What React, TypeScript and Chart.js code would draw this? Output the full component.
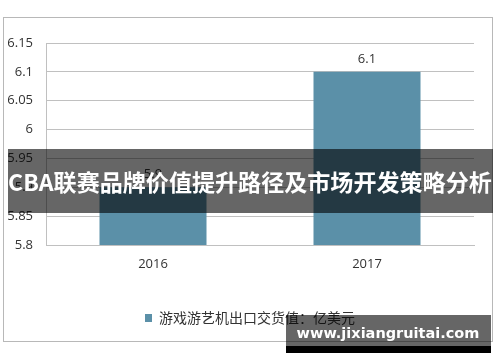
import React, { useEffect, useRef } from "react";
import { Chart, registerables } from "chart.js";

Chart.register(...registerables);

const categories = ["2016", "2017"];
const seriesLabel = "游戏游艺机出口交货值：亿美元";
const seriesValues = [5.9, 6.1];
const yTickValues = [5.8, 5.85, 5.9, 5.95, 6, 6.05, 6.1, 6.15];
const bannerText = "CBA联赛品牌价值提升路径及市场开发策略分析";
const watermarkText = "www.jixiangruitai.com";

const BAR_COLOR = "#5B90A8";
const TEXT_COLOR = "#333333";
const GRID_COLOR = "#c0c0c0";
const LATIN_FONT = "'Open Sans', 'Noto Sans', sans-serif";
const CJK_FONT = "'Noto Sans CJK SC', 'Noto Sans', sans-serif";

const fmt = (v: number) => String(+Number(v).toFixed(2));

const framePlugin = {
  id: "frame",
  afterLayout(chart: any) {
    // center the legend on the whole canvas
    if (chart.legend) {
      chart.legend.left = 0;
      chart.legend.right = chart.width;
      chart.legend.width = chart.width;
    }
  },
  beforeDraw(chart: any) {
    const ctx = chart.ctx;
    ctx.save();
    ctx.fillStyle = "#ffffff";
    ctx.fillRect(0, 0, chart.width, chart.height);
    ctx.strokeStyle = "#b8b8b8";
    ctx.lineWidth = 1;
    ctx.strokeRect(3.5, 17.5, 489, 324);
    ctx.restore();
  },
};

const dataLabelPlugin = {
  id: "dataLabels",
  afterDatasetsDraw(chart: any) {
    const ctx = chart.ctx;
    ctx.save();
    ctx.font = `13px ${LATIN_FONT}`;
    ctx.fillStyle = TEXT_COLOR;
    ctx.textAlign = "center";
    ctx.textBaseline = "bottom";
    chart.data.datasets.forEach((ds: any, di: number) => {
      const meta = chart.getDatasetMeta(di);
      meta.data.forEach((el: any, i: number) => {
        ctx.fillText(fmt(ds.data[i]), el.x, el.y - 6);
      });
    });
    ctx.restore();
  },
};

const overlayPlugin = {
  id: "overlay",
  afterDraw(chart: any) {
    const ctx = chart.ctx;
    ctx.save();
    // banner
    ctx.fillStyle = "rgba(0,0,0,0.6)";
    ctx.fillRect(8, 149, 485, 64);
    ctx.fillStyle = "#ffffff";
    ctx.textBaseline = "middle";
    ctx.textAlign = "left";
    ctx.font = `bold 23px ${CJK_FONT}`;
    const bw = ctx.measureText(bannerText).width;
    const bsize = (23 * 484) / bw;
    ctx.font = `bold ${bsize.toFixed(2)}px ${CJK_FONT}`;
    ctx.fillText(bannerText, 8, 182);
    // watermark
    ctx.fillStyle = "rgba(0,0,0,0.6)";
    ctx.fillRect(286, 315, 205, 31);
    ctx.fillStyle = "#000000";
    ctx.fillRect(286, 346, 205, 7);
    ctx.fillStyle = "#ffffff";
    ctx.textAlign = "center";
    ctx.font = `bold 16px 'DejaVu Sans', sans-serif`;
    const ww = ctx.measureText(watermarkText).width;
    const wsize = (16 * 183) / ww;
    ctx.font = `bold ${wsize.toFixed(2)}px 'DejaVu Sans', sans-serif`;
    ctx.fillText(watermarkText, 388, 334);
    ctx.restore();
  },
};

export default function App() {
  const canvasRef = useRef<HTMLCanvasElement | null>(null);

  useEffect(() => {
    if (!canvasRef.current) return;
    const chart = new Chart(canvasRef.current, {
      type: "bar",
      data: {
        labels: categories,
        datasets: [
          {
            label: seriesLabel,
            data: seriesValues,
            backgroundColor: BAR_COLOR,
            borderWidth: 0,
            barPercentage: 0.5,
            categoryPercentage: 1,
          },
        ],
      },
      options: {
        responsive: false,
        animation: false,
        devicePixelRatio: 1,
        layout: { padding: { left: 0, right: 26, top: 43, bottom: 27 } },
        plugins: {
          legend: {
            display: true,
            position: "bottom",
            labels: {
              boxWidth: 7,
              boxHeight: 8,
              padding: 10,
              color: TEXT_COLOR,
              font: { size: 14, family: CJK_FONT },
            },
          },
          tooltip: { enabled: false },
        },
        scales: {
          x: {
            grid: { display: false, drawTicks: false },
            border: { display: true, color: GRID_COLOR },
            ticks: {
              color: TEXT_COLOR,
              padding: 11,
              font: { size: 13, family: LATIN_FONT },
            },
            afterFit: (s: any) => {
              s.height = 56;
            },
          },
          y: {
            min: 5.8,
            max: 6.15,
            afterBuildTicks: (s: any) => {
              s.ticks = yTickValues.map((v) => ({ value: v }));
            },
            ticks: {
              color: TEXT_COLOR,
              padding: 13,
              font: { size: 13, family: LATIN_FONT },
              callback: (v: any) => fmt(v),
            },
            grid: { color: GRID_COLOR, drawTicks: false },
            border: { display: true, color: GRID_COLOR },
            afterFit: (s: any) => {
              s.width = 46;
            },
          },
        },
      },
      plugins: [framePlugin, dataLabelPlugin, overlayPlugin],
    });
    return () => chart.destroy();
  }, []);

  return (
    <div style={{ position: "absolute", left: 0, top: 0, width: 500, height: 362 }}>
      <canvas ref={canvasRef} width={500} height={362} style={{ width: 500, height: 362 }} />
    </div>
  );
}
